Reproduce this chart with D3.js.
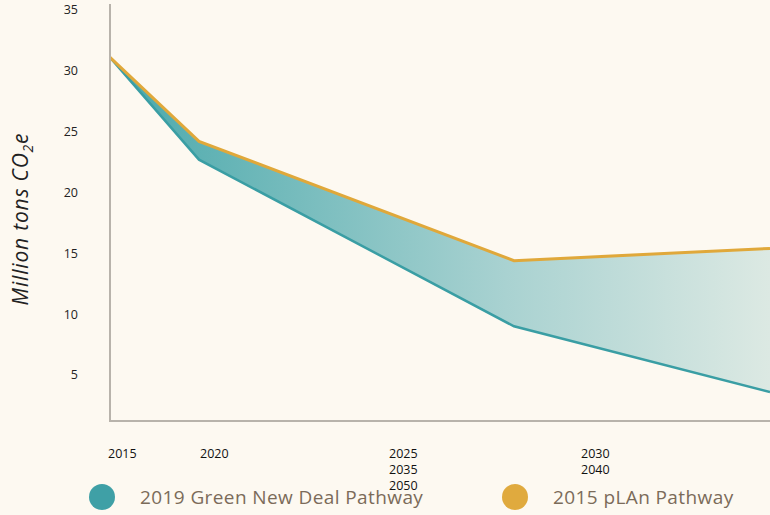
<!DOCTYPE html>
<html>
<head>
<meta charset="utf-8">
<script src="https://cdn.jsdelivr.net/npm/d3@7"></script>
<style>
  body { margin: 0; background: #fdf9f1; }
  svg { display: block; font-family: "Open Sans", sans-serif; }
</style>
</head>
<body>
<svg id="chart" width="770" height="515"></svg>
<script>
// pathway data, million tons CO2e
var years = [2015, 2020, 2030, 2050];
var gndValues = [31.1, 22.7, 9.0, 3.6];
var planValues = [31.1, 24.2, 14.4, 15.4];
var yTicks = [5, 10, 15, 20, 25, 30, 35];
// x tick labels as they stack under the axis
var tickColumns = [["2015"], ["2020"], ["2025", "2035", "2050"], ["2030", "2040"]];
var legendNames = ["2019 Green New Deal Pathway", "2015 pLAn Pathway"];
var legendColors = ["#3fa0a6", "#e0aa3e"];

var chart = {
	initialize: function(){
		var self = this;
		self._render_view();
		return self;
	},
	_render_view: function(){
		var svg = d3.select('#chart');

		var x = d3.scaleLinear()
			.domain(years)
			.range([110, 199, 514, 770]);
		var y = d3.scaleLinear()
			.domain([5, 35])
			.range([375, 10]);
		var labelX = d3.scaleLinear()
			.domain([0, 1, 2, 3])
			.range([108, 200, 389, 581]);

		var defs = svg.append('defs');
		var grad = defs.append('linearGradient')
			.attr('id', 'gap-fill')
			.attr('gradientUnits', 'userSpaceOnUse')
			.attr('x1', x(2015)).attr('x2', x(2050))
			.attr('y1', 0).attr('y2', 0);
		grad.append('stop').attr('offset', '0%').attr('stop-color', '#49a8ab');
		grad.append('stop').attr('offset', '60%').attr('stop-color', '#a9d2d1');
		grad.append('stop').attr('offset', '100%').attr('stop-color', '#dce9e3');

		var rows = years.map(function(d, i){
			return { year: d, low: gndValues[i], high: planValues[i] };
		});

		var area = d3.area()
			.x(function(d){ return x(d.year); })
			.y0(function(d){ return y(d.low); })
			.y1(function(d){ return y(d.high); });
		svg.append('path')
			.datum(rows)
			.attr('d', area)
			.attr('fill', 'url(#gap-fill)');

		var lowLine = d3.line()
			.x(function(d){ return x(d.year); })
			.y(function(d){ return y(d.low); });
		var highLine = d3.line()
			.x(function(d){ return x(d.year); })
			.y(function(d){ return y(d.high); });

		svg.append('path')
			.datum(rows)
			.attr('d', lowLine)
			.attr('fill', 'none')
			.attr('stroke', '#3a9ea4')
			.attr('stroke-width', 2.5);
		svg.append('path')
			.datum(rows)
			.attr('d', highLine)
			.attr('fill', 'none')
			.attr('stroke', '#e0a83a')
			.attr('stroke-width', 3);

		// axes
		svg.append('line')
			.attr('x1', 110).attr('x2', 110)
			.attr('y1', 4).attr('y2', 421)
			.attr('stroke', '#b8b3ab').attr('stroke-width', 2);
		svg.append('line')
			.attr('x1', 109).attr('x2', 770)
			.attr('y1', 421).attr('y2', 421)
			.attr('stroke', '#b8b3ab').attr('stroke-width', 2);

		svg.selectAll('.y-tick')
			.data(yTicks)
			.enter()
			.append('text')
			.attr('class', 'y-tick')
			.attr('x', 78)
			.attr('y', function(d){ return y(d); })
			.attr('dy', '0.35em')
			.attr('text-anchor', 'end')
			.attr('font-size', 12.5)
			.attr('fill', '#222')
			.text(function(d){ return d; });

		var cols = svg.selectAll('.x-col')
			.data(tickColumns)
			.enter()
			.append('text')
			.attr('class', 'x-col')
			.attr('font-size', 12.5)
			.attr('fill', '#111');
		cols.selectAll('tspan')
			.data(function(d, i){ return d.map(function(t){ return { t: t, col: i }; }); })
			.enter()
			.append('tspan')
			.attr('x', function(d){ return labelX(d.col); })
			.attr('y', function(d, j){ return 458 + j * 16; })
			.text(function(d){ return d.t; });

		// y axis title
		var title = svg.append('text')
			.attr('transform', 'translate(28,219) rotate(-90)')
			.attr('text-anchor', 'middle')
			.attr('font-size', 21)
			.attr('letter-spacing', 0.8)
			.attr('font-style', 'italic')
			.attr('fill', '#222');
		title.append('tspan').text('Million tons CO');
		title.append('tspan').attr('font-size', 14).attr('dy', 5).text('2');
		title.append('tspan').attr('dy', -5).text('e');

		// legend
		var legend = svg.selectAll('.legend')
			.data(legendNames)
			.enter()
			.append('g')
			.attr('class', 'legend')
			.attr('transform', function(d, i){ return 'translate(' + (102 + i * 413) + ',497)'; });
		legend.append('circle')
			.attr('r', 13)
			.attr('fill', function(d, i){ return legendColors[i]; });
		legend.append('text')
			.attr('x', 38)
			.attr('dy', '0.35em')
			.attr('font-size', 19)
			.attr('letter-spacing', 0.4)
			.attr('fill', '#7b6b59')
			.text(function(d){ return d; });
	}
};
chart.initialize();
</script>
</body>
</html>
